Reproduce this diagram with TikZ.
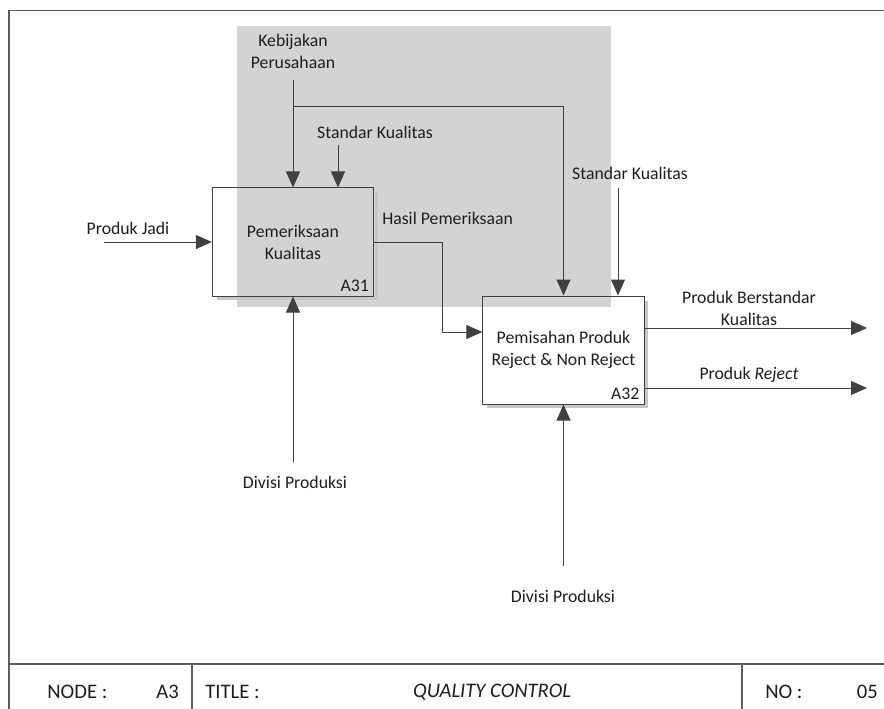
\documentclass[tikz,border=0pt]{standalone}
\usepackage{fontspec}
\setmainfont{Carlito}
\usepackage{tikz}
\usetikzlibrary{arrows.meta}

\definecolor{lineg}{RGB}{64,64,64}
\definecolor{markg}{RGB}{211,211,211}
\definecolor{shadeg}{RGB}{200,200,200}
\definecolor{txtg}{RGB}{30,30,30}

\begin{document}
\begin{tikzpicture}[x=0.75pt,y=-0.75pt]
		\tikzset{flow/.style={draw=lineg, line width=0.75pt, -{Triangle[length=12pt,width=10.5pt]}}};
		\tikzset{actbox/.style={draw=lineg, line width=0.75pt, minimum width=121pt, minimum height=81pt, align=center}};
		\tikzset{boxshadow/.style={draw=shadeg, line width=2.2pt}};
		\tikzset{lbl/.style={font=\fontsize{13.3}{16.5}\selectfont, text=txtg, align=center, inner sep=0pt}};
		\tikzset{cell/.style={font=\fontsize{15.5}{18}\selectfont, text=txtg, inner sep=0pt}};
		\useasboundingbox (0,0) rectangle (884,709);
		\fill[white] (0,0) rectangle (884,709);
		\fill[markg] (237,26) rectangle (611,307);
		\draw[lineg!85, line width=0.8pt] (9,709) -- (9,10.5) -- (884,10.5);
		\draw[lineg!85, line width=0.8pt] (9,664) -- (884,664);
		\draw[lineg!85, line width=0.8pt] (192,664) -- (192,709);
		\draw[lineg!85, line width=0.8pt] (742,664) -- (742,709);
		\node[actbox, lbl] (a31) at (293,242) {Pemeriksaan\\Kualitas};
		\node[actbox, lbl] (a32) at (563.5,350) {Pemisahan Produk\\Reject \& Non Reject};
		\draw[boxshadow] ([shift={(2,5)}]a31.north east) -- ([shift={(2,2)}]a31.south east) -- ([shift={(5,2)}]a31.south west);
		\draw[boxshadow] ([shift={(2,5)}]a32.north east) -- ([shift={(2,2)}]a32.south east) -- ([shift={(5,2)}]a32.south west);
		\node[actbox] at (a31) {};
		\node[actbox] at (a32) {};
		\node[lbl, anchor=south east] (a31num) at ([shift={(-5,-5)}]a31.south east) {A31};
		\node[lbl, anchor=south east] (a32num) at ([shift={(-5,-5)}]a32.south east) {A32};
		\node[lbl] (kebijakan) at (293,51) {Kebijakan\\Perusahaan};
		\node[lbl] (standar1) at (375,132) {Standar Kualitas};
		\node[lbl] (standar2) at (630,173) {Standar Kualitas};
		\node[lbl] (produkjadi) at (128,228) {Produk Jadi};
		\node[lbl, anchor=west] (hasil) at (382,218) {Hasil Pemeriksaan};
		\node[lbl] (berstandar) at (749,308) {Produk Berstandar\\Kualitas};
		\node[lbl] (reject) at (749,375) {Produk \textit{Reject}};
		\node[lbl] (divisi1) at (295,482) {Divisi Produksi};
		\node[lbl] (divisi2) at (563,596) {Divisi Produksi};
		\coordinate (kbstart) at (293,80);
		\coordinate (kbsplit) at (293,107);
		\coordinate (kbturn) at (563.5,107);
		\coordinate (sk1start) at (338,145);
		\coordinate (sk2start) at (618,188);
		\coordinate (pjstart) at (104,242);
		\coordinate (hpturn) at (442,242);
		\coordinate (hpdown) at (442,332);
		\coordinate (dp1start) at (293,462);
		\coordinate (dp2start) at (563.5,566);
		\coordinate (out1end) at (867,328);
		\coordinate (out2end) at (867,388);
		\draw[flow] (kbstart) -- (a31.north -| kbstart);
		\draw[flow] (kbsplit) -- (kbturn) -- (a32.north);
		\draw[flow] (sk1start) -- (a31.north -| sk1start);
		\draw[flow] (sk2start) -- (a32.north -| sk2start);
		\draw[flow] (pjstart) -- (a31.west);
		\draw[flow] (a31.east) -- (hpturn) -- (hpdown) -- (a32.west |- hpdown);
		\draw[flow] (dp1start) -- (a31.south);
		\draw[flow] (dp2start) -- (a32.south);
		\draw[flow] (a32.east |- out1end) -- (out1end);
		\draw[flow] (a32.east |- out2end) -- (out2end);
		\node[cell, anchor=west] (nodelbl) at (47,692) {NODE :};
		\node[cell, anchor=east] (nodeval) at (179,692) {A3};
		\node[cell, anchor=west] (titlelbl) at (205,692) {TITLE :};
		\node[cell] (titleval) at (492,692) {\textit{QUALITY CONTROL}};
		\node[cell, anchor=west] (nolbl) at (765,692) {NO :};
		\node[cell, anchor=east] (noval) at (878,692) {05};
	\end{tikzpicture}
\end{document}
